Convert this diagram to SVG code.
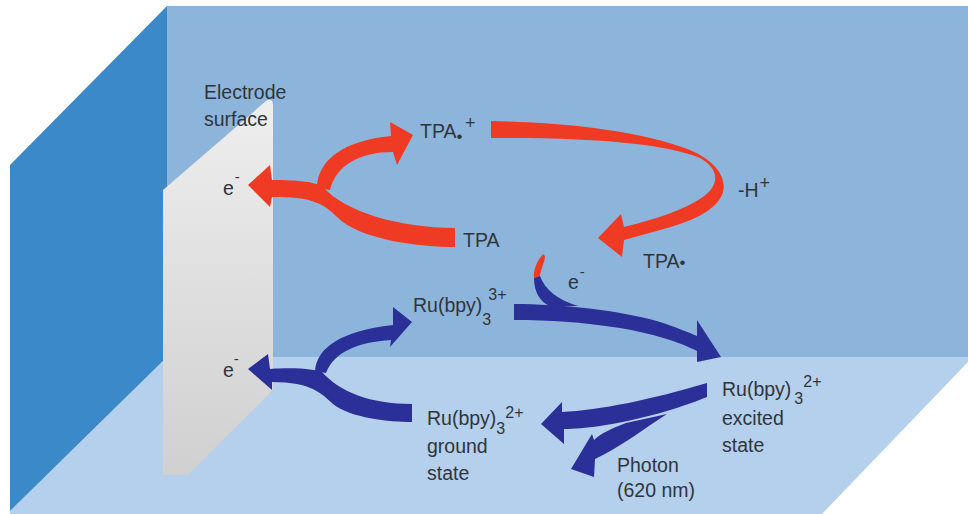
<svg xmlns="http://www.w3.org/2000/svg" width="968" height="514" viewBox="0 0 968 514">
<defs>
<style>
.t{font-family:"Liberation Sans",Arial,sans-serif;font-size:19.5px;fill:#30353b}
.s{font-size:16px}
.m{font-size:15px}
.p{font-size:18px}
.d{font-size:17px}
.red{fill:#ef3b24}
.blue{fill:#2b2f98}
</style>
<linearGradient id="slab" x1="0" y1="0" x2="0" y2="1">
<stop offset="0" stop-color="#eeeeee"/>
<stop offset="1" stop-color="#d0d0d0"/>
</linearGradient>
</defs>
<g id="scene">
<rect width="968" height="514" fill="#ffffff"/>
<polygon points="167,6 968,6 968,357 167,357" fill="#8db5dc"/>
<polygon points="167,357 968,357 968,362 822,514 10,514 10,511" fill="#b4d0ec"/>
<polygon points="10,165 167,6 167,357 10,511" fill="#3b89c9"/>
<path d="M163,190 L266,101 Q273,97 273,106 L273,390 L188,475 L163,475 Z" fill="url(#slab)"/>
</g>
<g id="connectors">
<path class="red" d="M491,121 C560,122 640,130 690,150 C718,162 728,180 722,195 C714,212 690,222 660,230 L624,240 L622,257 L598,238 L621,214 L624,227 C660,218 700,205 712,188 C720,175 712,165 700,158 C670,145 600,137 491,138 Z"/>
<path class="red" d="M455,228 L455,247 C420,247 360,240 337,217 C322,202 310,197 272,197 L270,207 L248,185 L270,165 L272,180 C300,180 315,182 323,187 C345,212 400,228 455,228 Z"/>
<path class="red" d="M317,188 C317,160 345,140 391,136 L390,122 L413,135 L397,165 L393,152 C360,152 336,165 330,190 Z"/>
<path class="red" d="M543,254 C537,261 533,270 534,278 L540,276 C541,268 545,262 545,256 Z"/>
<path class="blue" d="M514,304 C560,304 620,310 660,322 C675,327 688,332 697,336 L697,320 L721,357 L697,362 L697,351 C680,342 650,333 620,328 C580,322 550,320 514,320 Z"/>
<path class="blue" d="M534,278 C534,292 540,302 550,306 L578,306 C558,300 545,290 540,276 Z"/>
<path class="blue" d="M412,404 L412,422 C390,422 350,418 333,404 C322,394 312,382 272,382 L272,390 L248,369 L268,354 L270,369 C300,367 315,370 322,372 C340,392 370,404 412,404 Z"/>
<path class="blue" d="M315,371 C317,348 340,331 393,325 L393,307 L412,322 L390,347 L391,340 C358,342 334,352 326,373 Z"/>
<path class="blue" d="M707,383 L707,397 C680,408 640,420 600,426 C585,428 575,429 564,429 L564,444 L541,424 L562,402 L562,412 C600,410 650,400 707,383 Z"/>
<path class="blue" d="M626,423 C612,428 600,434 594,440 L592,434 L571,469 L594,477 L595,459 C622,446 645,428 667,414 Z"/>
</g>
<g id="electrode-label">
<text class="t" x="204" y="99">Electrode</text>
<text class="t" x="204" y="126">surface</text>
</g>
<g id="tpa-radical-cation">
<text class="t" x="420" y="138">TPA<tspan class="d" dy="4">•</tspan><tspan class="p" x="465" dy="-13">+</tspan></text>
</g>
<g id="e-top">
<text class="t" x="223" y="195">e<tspan class="m" dx="1" dy="-13">-</tspan></text>
</g>
<g id="tpa">
<text class="t" x="463" y="247">TPA</text>
</g>
<g id="deprotonation">
<text class="t" x="738" y="197">-H<tspan class="p" dx="1" dy="-8">+</tspan></text>
</g>
<g id="tpa-radical">
<text class="t" x="643" y="268">TPA<tspan class="d" dy="0">•</tspan></text>
</g>
<g id="e-mid">
<text class="t" x="568" y="289">e<tspan class="m" dx="1" dy="-12">-</tspan></text>
</g>
<g id="ru3">
<text class="t" x="413" y="312">Ru(bpy)<tspan class="s" dy="13">3</tspan><tspan class="s" dx="-3" dy="-25">3+</tspan></text>
</g>
<g id="e-bottom">
<text class="t" x="223" y="377">e<tspan class="m" dx="0" dy="-13">-</tspan></text>
</g>
<g id="ru2-ground">
<text class="t" x="427" y="425">Ru(bpy)<tspan class="s" dy="9">3</tspan><tspan class="s" dx="0" dy="-16">2+</tspan></text>
<text class="t" x="427" y="453">ground</text>
<text class="t" x="427" y="480">state</text>
</g>
<g id="ru2-excited">
<text class="t" x="722" y="396">Ru(bpy)<tspan class="s" dx="3" dy="8">3</tspan><tspan class="s" dx="0" dy="-17">2+</tspan></text>
<text class="t" x="722" y="425">excited</text>
<text class="t" x="722" y="452">state</text>
</g>
<g id="photon">
<text class="t" x="617" y="472">Photon</text>
<text class="t" x="617" y="497">(620 nm)</text>
</g>
</svg>
